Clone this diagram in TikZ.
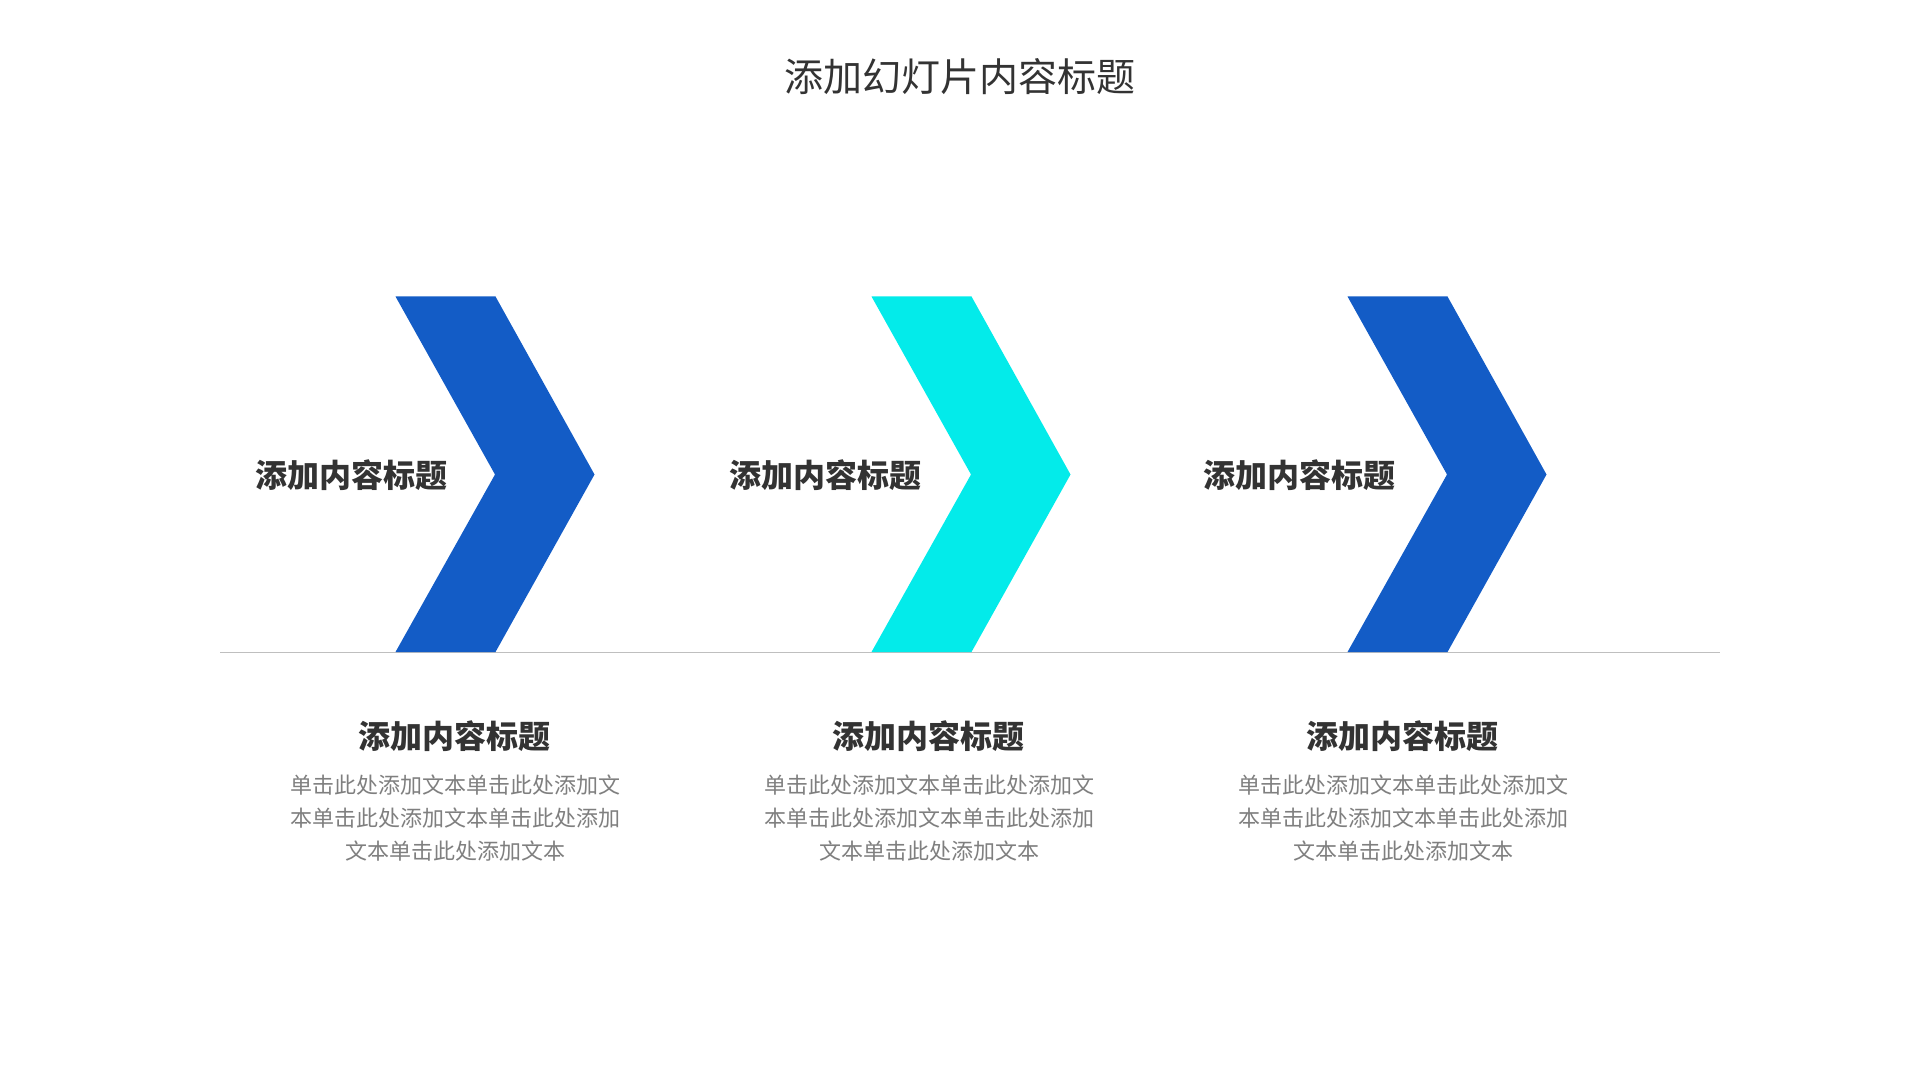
\documentclass[tikz,border=0pt]{standalone}
\usepackage{fontspec}
\setmainfont{Noto Sans CJK SC}
\definecolor{chevblue}{HTML}{135CC6}
\definecolor{chevcyan}{HTML}{03EBEA}
\definecolor{titlegray}{HTML}{333333}
\definecolor{bodygray}{HTML}{7F7F7F}
\definecolor{rulegray}{HTML}{BFBFBF}

\begin{document}
\begin{tikzpicture}[x=0.5pt,y=-0.5pt,
  heading/.style={titlegray,inner sep=0pt,font=\fontsize{16}{19}\selectfont\bfseries},
  bodytext/.style={bodygray,inner sep=0pt,align=center,font=\fontsize{11}{16.5}\selectfont}]
  \useasboundingbox (0,0) rectangle (1920,1080);
  % slide title
  \node[titlegray,inner sep=0pt,font=\fontsize{19.5}{23}\selectfont] (title) at (960,77) {添加幻灯片内容标题};
  % base rule
  \coordinate (ruleL) at (220,652.5);
  \coordinate (ruleR) at (1720,652.5);
  \draw[rulegray,line width=0.9pt] (ruleL) -- (ruleR);
  % chevrons with labels and texts
  \foreach \i/\col in {1/chevblue,2/chevcyan,3/chevblue}{
    \pgfmathsetmacro{\dx}{476*(\i-1)}
    \pgfmathsetmacro{\tx}{474*(\i-1)}
    \fill[\col] ({395.5+\dx},296.5) -- ({495.5+\dx},296.5) -- ({594.5+\dx},474.5)
      -- ({495.5+\dx},652) -- ({395.5+\dx},652) -- ({495+\dx},474.5) -- cycle;
    \node[heading] (lbl\i) at ({351+\tx},475) {添加内容标题};
    \node[heading] (sub\i) at ({454+\tx},736) {添加内容标题};
    \node[bodytext,anchor=north] (txt\i) at ({455+\tx},774.5)
      {单击此处添加文本单击此处添加文\\本单击此处添加文本单击此处添加\\文本单击此处添加文本};
  }
\end{tikzpicture}
\end{document}
